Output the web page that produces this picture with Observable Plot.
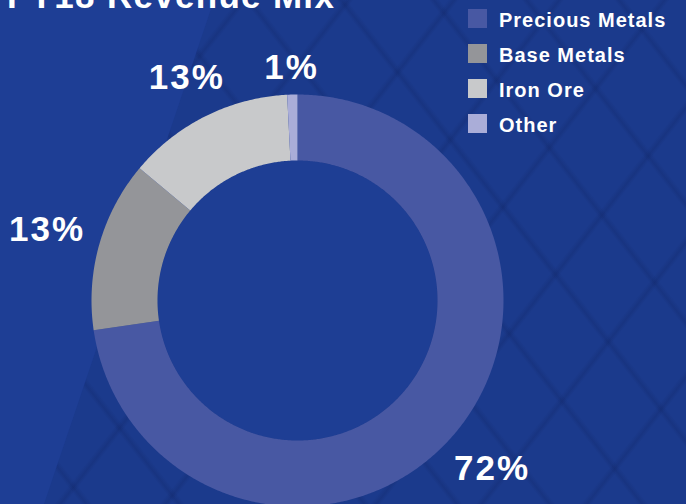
<!DOCTYPE html>
<html>
<head>
<meta charset="utf-8">
<script src="https://cdn.jsdelivr.net/npm/d3@7"></script>
<script src="https://cdn.jsdelivr.net/npm/@observablehq/plot@0.6"></script>
<style>
  html, body { margin: 0; padding: 0; }
  body { width: 686px; height: 504px; overflow: hidden; position: relative; background: #1b3a8c; font-family: "Liberation Sans", Arial, sans-serif; }
  #bg { position: absolute; inset: 0;
    background:
      repeating-linear-gradient(52deg, rgba(12,28,85,0) 0px, rgba(12,28,85,0) 64px, rgba(12,28,85,0.2) 68px, rgba(12,28,85,0) 73px),
      repeating-linear-gradient(-52deg, rgba(12,28,85,0) 0px, rgba(12,28,85,0) 74px, rgba(12,28,85,0.2) 78px, rgba(12,28,85,0) 83px),
      #1b3a8c; }
  #light { position: absolute; inset: 0; background: #1e3e95; clip-path: polygon(0 0, 214px 0, 44px 504px, 0 504px); }
  #chart { position: absolute; left: 0; top: 0; }
  #chart text { letter-spacing: 2px; }
  #title { position: absolute; left: 7px; top: -22px; color: #fff; font: bold 35px/35px "Liberation Sans", Arial, sans-serif; letter-spacing: 1.3px; white-space: nowrap; }
  #legend { position: absolute; left: 468px; top: 1px; width: 218px; }
  .lg-swatch { height: 35px; padding-bottom: 0 !important; }
  .lg-swatch > svg { margin-right: 12px !important; }
  .lg-swatch-label { position: relative; top: 1.5px; letter-spacing: 1px; }
</style>
</head>
<body>
<div id="bg"></div>
<div id="light"></div>
<div id="chart"></div>
<div id="title">FY18 Revenue Mix</div>
<div id="legend"></div>
<script>
// ---- data ----
const categories = ["Precious Metals", "Base Metals", "Iron Ore", "Other"];
const shares = [72.7, 13.4, 13.1, 0.8];
const labels = ["72%", "13%", "13%", "1%"];
const colors = ["#4858a3", "#949599", "#c8c9cb", "#aaadd8"];

// ---- geometry (polar via azimuthal projection: longitude = angle, latitude = radius) ----
const R_OUT = 206, R_IN = 140, CX = 297, CY = 300;
const latOf = r => 90 - 90 * r / R_OUT;       // radius (px) -> latitude
const lonOf = t => 180 - t;                     // angle clockwise from top -> longitude
const LAT_OUT = latOf(R_OUT), LAT_IN = latOf(R_IN);

const total = d3.sum(shares);
let acc = 0;
const slices = categories.map((c, i) => {
  const a0 = acc / total * 360; acc += shares[i];
  const a1 = acc / total * 360;
  return {category: c, label: labels[i], a0, a1, mid: (a0 + a1) / 2};
});

function ring(s) {
  const L0 = lonOf(s.a0), L1 = lonOf(s.a1);
  const n = Math.max(2, Math.ceil((L0 - L1) / 0.5));
  const top = [], bottom = [];
  for (let k = 0; k <= n; k++) {
    const lon = L1 + (L0 - L1) * k / n;
    top.push([lon, LAT_IN]);
    bottom.push([lon, LAT_OUT]);
  }
  const coords = [...top, ...bottom.reverse()];
  coords.push(coords[0]);
  return {type: "Feature", properties: {category: s.category}, geometry: {type: "Polygon", coordinates: [coords]}};
}
const features = slices.map(ring);

// label positions: just outside the ring, along each slice's mid-angle
const labelPts = slices.map(s => {
  const t = s.mid * Math.PI / 180;
  const halfW = 12.8 * s.label.length, halfH = 12.5;
  const r = 220 + halfW * Math.abs(Math.sin(t)) + halfH * Math.abs(Math.cos(t));
  return {...s, lon: lonOf(s.mid), lat: latOf(r)};
});

const projection = d3.geoAzimuthalEquidistant()
  .rotate([0, -90])
  .scale(R_OUT / (Math.PI / 2))
  .translate([CX, CY]);

const hole = d3.geoCircle().center([0, 90]).radius(90 - LAT_IN).precision(0.5)();

const chart = Plot.plot({
  width: 686,
  height: 504,
  margin: 0,
  projection,
  style: {background: "transparent", fontFamily: "Liberation Sans, Arial, sans-serif"},
  color: {domain: categories, range: colors},
  marks: [
    Plot.geo(hole, {fill: "#1e3e94"}),
    Plot.geo(features, {fill: d => d.properties.category}),
    Plot.text(labelPts, {x: "lon", y: "lat", text: "label", fill: "white", fontSize: 35, fontWeight: "bold"})
  ]
});
document.getElementById("chart").appendChild(chart);

const legend = Plot.legend({
  color: {domain: categories, range: colors},
  legend: "swatches",
  columns: 1,
  swatchSize: 19,
  className: "lg",
  style: {fontSize: "20px", fontWeight: "bold", color: "white", fontFamily: "Liberation Sans, Arial, sans-serif", background: "transparent", marginBottom: 0}
});
document.getElementById("legend").appendChild(legend);
</script>
</body>
</html>
